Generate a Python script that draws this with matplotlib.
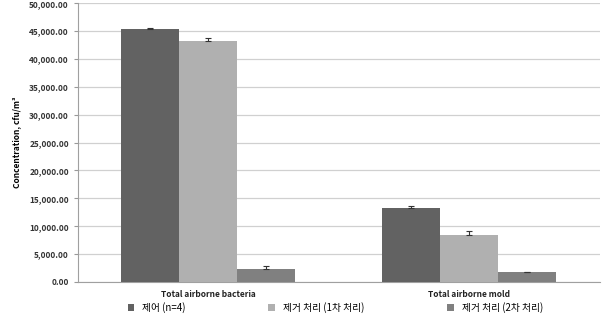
import matplotlib.pyplot as plt
import numpy as np
from matplotlib.ticker import FuncFormatter

categories = ["Total airborne bacteria", "Total airborne mold"]
series_names = ["제어 (n=4)", "제거 처리 (1차 처리)", "제거 처리 (2차 처리)"]
values = [
    [45300, 13300],
    [43200, 8500],
    [2400, 1700],
]
errors = [
    [300, 250],
    [600, 600],
    [500, 150],
]
colors = ["#626262", "#b0b0b0", "#808080"]

plt.rcParams['font.family'] = ['Noto Sans CJK KR', 'DejaVu Sans']

fig = plt.figure(figsize=(6.04, 3.15), dpi=100)
ax = fig.add_axes([0.129, 0.105, 0.864, 0.885])

x = np.arange(len(categories))
w = 0.222
for i, (vals, errs) in enumerate(zip(values, errors)):
    # only the upper half of the error bar is drawn, as in the source
    ax.bar(x + (i - 1) * w, vals, w, color=colors[i], label=series_names[i],
           yerr=[np.zeros(len(errs)), errs],
           error_kw=dict(ecolor="#333333", elinewidth=0.8, capsize=2, capthick=0.8),
           zorder=3)

ax.set_xlim(-0.5, 1.5)
ax.set_ylim(0, 50000)
ax.set_yticks(np.arange(0, 50001, 5000))
ax.yaxis.set_major_formatter(FuncFormatter(lambda v, p: f"{v:,.2f}"))
ax.set_xticks(x)
ax.set_xticklabels(categories, fontsize=6, fontweight="bold", color="#222222")
ax.tick_params(axis="x", length=0, pad=6)
ax.tick_params(axis="y", labelsize=6, length=3, color="#999999", labelcolor="#333333")
for lab in ax.get_yticklabels():
    lab.set_fontweight("bold")
ax.grid(axis="y", color="#d0d0d0", linewidth=0.9, zorder=0)
for s in ["top", "right"]:
    ax.spines[s].set_visible(False)
ax.spines["left"].set_color("#a0a0a0")
ax.spines["bottom"].set_color("#a0a0a0")
ax.set_ylabel("Concentration, cfu/m³", fontsize=6, fontweight="bold", labelpad=6)

fig.legend(loc="lower center", bbox_to_anchor=(0.555, -0.012), ncol=3, frameon=False,
           fontsize=7, handlelength=0.7, handleheight=0.7, columnspacing=8.5,
           borderpad=0.1)

fig.savefig("out.png", dpi=100)
